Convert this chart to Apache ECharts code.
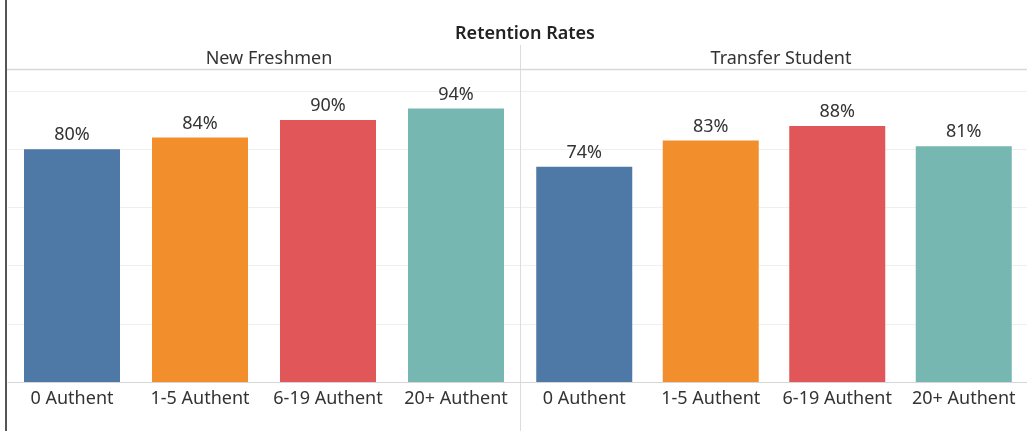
<!DOCTYPE html>
<html>
<head>
<meta charset="utf-8">
<script src="https://cdn.jsdelivr.net/npm/echarts@6/dist/echarts.min.js"></script>
<style>
html,body{margin:0;padding:0;background:#fff;}
#c{width:1027px;height:431px;}
</style>
</head>
<body>
<div id="c"></div>
<script>
const chartTitle = 'Retention Rates';
const panels = ['New Freshmen', 'Transfer Student'];
const categories = ['0 Authent', '1-5 Authent', '6-19 Authent', '20+ Authent'];
const newFreshmen = [0.80, 0.84, 0.90, 0.94];
const transferStudent = [0.74, 0.83, 0.88, 0.81];
const yTicks = [0, 0.2, 0.4, 0.6, 0.8, 1.0];
const palette = ['#4e79a7', '#f28e2b', '#e15759', '#76b7b2'];

const FONT = '"Noto Sans", sans-serif';
const chart = echarts.init(document.getElementById('c'), null, {renderer: 'canvas'});

function barData(vals) {
  return vals.map((v, i) => ({value: v, itemStyle: {color: palette[i]}}));
}

const grids = [
  {left: 8, top: 91, width: 512, height: 291},
  {left: 521, top: 91, width: 506, height: 291}
];

const option = {
  animation: false,
  textStyle: {fontFamily: FONT},
  title: [
    {text: chartTitle, left: 520, top: 20, textAlign: 'center',
     textStyle: {fontSize: 18, fontWeight: 600, color: '#222', fontFamily: FONT}},
    {text: panels[0], left: 264, top: 45, textAlign: 'center',
     textStyle: {fontSize: 18, fontWeight: 'normal', color: '#333', fontFamily: FONT}},
    {text: panels[1], left: 776, top: 45, textAlign: 'center',
     textStyle: {fontSize: 18, fontWeight: 'normal', color: '#333', fontFamily: FONT}}
  ],
  grid: grids,
  xAxis: [0, 1].map(i => ({
    type: 'category', gridIndex: i, data: categories,
    axisLine: {show: true, lineStyle: {color: '#d6d6d6', width: 1}},
    axisTick: {show: false},
    axisLabel: {fontSize: 18, color: '#333', margin: 8, interval: 0, fontFamily: FONT}
  })),
  yAxis: [0, 1].map(i => ({
    type: 'value', gridIndex: i, min: yTicks[0], max: yTicks[yTicks.length - 1], interval: 0.2,
    axisLabel: {show: false}, axisLine: {show: false}, axisTick: {show: false},
    splitLine: {show: true, lineStyle: {color: '#efefef', width: 1}}
  })),
  series: [newFreshmen, transferStudent].map((vals, i) => ({
    type: 'bar', xAxisIndex: i, yAxisIndex: i, data: barData(vals), barWidth: 96,
    label: {show: true, position: 'top', distance: 5, fontSize: 18, color: '#333', fontFamily: FONT,
      formatter: p => Math.round(p.value * 100) + '%'}
  })),
  graphic: [
    {type: 'rect', shape: {x: 5, y: 0, width: 2, height: 431}, style: {fill: '#555'}, silent: true},
    {type: 'line', shape: {x1: 520.5, y1: 45, x2: 520.5, y2: 431}, style: {stroke: '#dcdcdc', lineWidth: 1}, silent: true},
    {type: 'line', shape: {x1: 7, y1: 69.5, x2: 1027, y2: 69.5}, style: {stroke: '#d8d8d8', lineWidth: 1.5}, silent: true}
  ]
};
chart.setOption(option);
</script>
</body>
</html>
